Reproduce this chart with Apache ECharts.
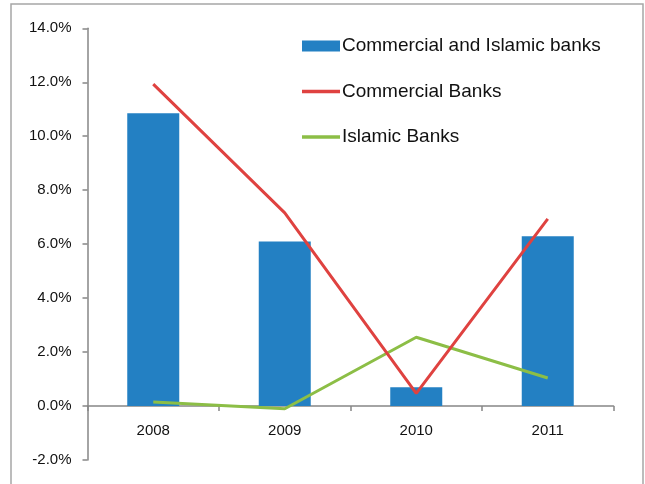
<!DOCTYPE html>
<html>
<head>
<meta charset="utf-8">
<script src="https://cdn.jsdelivr.net/npm/echarts@6/dist/echarts.min.js"></script>
<style>html,body{margin:0;padding:0;background:#fff;}#c{width:645px;height:484px;}</style>
</head>
<body>
<div id="c"></div>
<script>
var categories = ['2008', '2009', '2010', '2011'];
var combined = [10.85, 6.10, 0.70, 6.29];
var commercial = [11.93, 7.16, 0.47, 6.94];
var islamic = [0.15, -0.10, 2.55, 1.04];
var yTicks = { min: -2, max: 14, step: 2 };

var chart = echarts.init(document.getElementById('c'), null, { renderer: 'canvas' });
var axisColor = '#868686';
var font = 'Liberation Sans';
var lineIcon = 'path://M0,0 M38,11 M0,3.8 L38,3.8 L38,7.3 L0,7.3 Z';
var gridTop = 28.3, gridBottom = 24, chartH = 484;
var plotH = chartH - gridTop - gridBottom;
var zeroOffset = -plotH * (0 - yTicks.min) / (yTicks.max - yTicks.min);
chart.setOption({
  animation: false,
  backgroundColor: '#ffffff',
  graphic: [{
    type: 'rect', silent: true, z: -1,
    shape: { x: 11, y: 4, width: 632, height: 600 },
    style: { fill: 'none', stroke: '#A6A6A6', lineWidth: 1.5 }
  }],
  grid: { left: 87.5, right: 31.5, top: gridTop, bottom: gridBottom, containLabel: false, outerBoundsMode: 'none' },
  legend: {
    orient: 'vertical', left: 302, top: 36.5, padding: 0,
    itemWidth: 38, itemHeight: 11, itemGap: 26.5,
    textStyle: { fontFamily: font, fontSize: 19, lineHeight: 19, color: '#111', padding: [0, 0, 0, -3] },
    data: [
      { name: 'Commercial and Islamic banks', icon: 'rect' },
      { name: 'Commercial Banks', icon: lineIcon },
      { name: 'Islamic Banks', icon: lineIcon }
    ]
  },
  xAxis: {
    type: 'category', data: categories, position: 'bottom', offset: zeroOffset,
    axisLine: { onZero: false, lineStyle: { color: axisColor, width: 1.5 } },
    axisTick: { show: true, length: 5, inside: false, lineStyle: { color: axisColor, width: 1.5 } },
    axisLabel: { margin: 17, fontFamily: font, fontSize: 15, color: '#111' },
    splitLine: { show: false }
  },
  yAxis: {
    type: 'value', min: yTicks.min, max: yTicks.max, interval: yTicks.step,
    axisLine: { show: true, lineStyle: { color: axisColor, width: 1.5 } },
    axisTick: { show: true, length: 5, lineStyle: { color: axisColor, width: 1.5 } },
    axisLabel: { margin: 16, fontFamily: font, fontSize: 15, color: '#111',
      formatter: function (v) { return v.toFixed(1) + '%'; } },
    splitLine: { show: false }
  },
  series: [
    { name: 'Commercial and Islamic banks', type: 'bar', data: combined, barWidth: 52,
      itemStyle: { color: '#2380C3' }, z: 2 },
    { name: 'Commercial Banks', type: 'line', data: commercial, symbol: 'none',
      lineStyle: { color: '#DF4240', width: 3 }, itemStyle: { color: '#DF4240' }, z: 4 },
    { name: 'Islamic Banks', type: 'line', data: islamic, symbol: 'none',
      lineStyle: { color: '#8CBE46', width: 3 }, itemStyle: { color: '#8CBE46' }, z: 3 }
  ]
});
</script>
</body>
</html>
